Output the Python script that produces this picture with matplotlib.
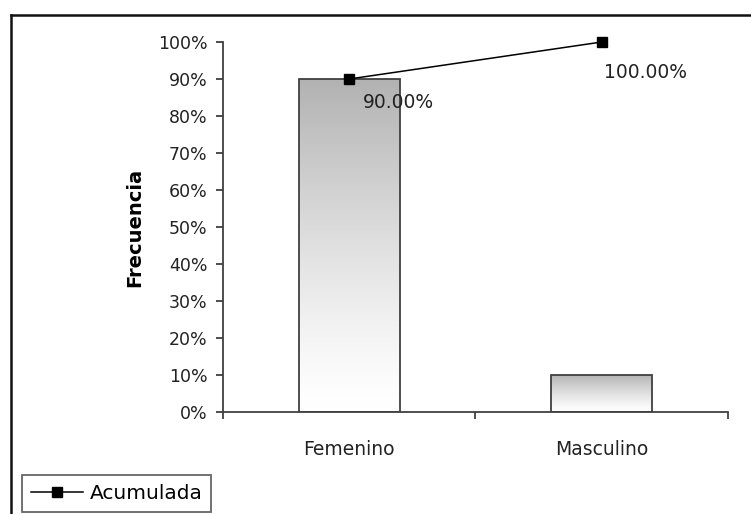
import numpy as np
import matplotlib
matplotlib.use("Agg")
import matplotlib.pyplot as plt
from matplotlib.lines import Line2D
from matplotlib.ticker import PercentFormatter

# Data
categories = ["Femenino", "Masculino"]
frecuencia = [0.90, 0.10]
acumulada = [0.90, 1.00]
value_labels = ["90.00%", "100.00%"]
label_offsets = [(14, -24), (2, -30)]  # pixels from each marker

plt.rcParams["font.family"] = "DejaVu Sans"

fig = plt.figure(figsize=(7.51, 5.14), dpi=100)
ax = fig.add_axes([223 / 751, 1 - 412 / 514, (728 - 223) / 751, (412 - 42) / 514])

x = np.arange(len(categories))
bar_w = 0.4
bars = ax.bar(x, frecuencia, width=bar_w, color="none", edgecolor="#404040",
              linewidth=1.3, zorder=3)

# gray-to-white gradient in each bar
grad = np.linspace(0, 1, 256).reshape(-1, 1) ** 1.3
cmap = matplotlib.colors.LinearSegmentedColormap.from_list("g", ["#ffffff", "#b2b2b2"])
for b in bars:
    x0, y0, w, h = b.get_x(), b.get_y(), b.get_width(), b.get_height()
    im = ax.imshow(grad, cmap=cmap, aspect="auto", origin="lower",
                   extent=(x0, x0 + w, y0, y0 + h), zorder=2)
    im.set_clip_path(b)

ax.plot(x, acumulada, color="black", lw=1.1, marker="s", ms=6.5,
        label="Acumulada", zorder=4, clip_on=False)
for xi, yi, txt, off in zip(x, acumulada, value_labels, label_offsets):
    ax.annotate(txt, (xi, yi), xytext=(off[0] * 0.72, off[1] * 0.72),
                textcoords="offset points", ha="left", va="center",
                fontsize=13.5, color="#222222", zorder=5)

ax.set_xlim(-0.5, 1.5)
ax.set_ylim(0, 1)
ax.set_yticks(np.arange(0, 1.01, 0.1))
ax.yaxis.set_major_formatter(PercentFormatter(1.0, decimals=0))
ax.set_xticks(x)
ax.set_xticklabels(categories)
ax.set_xticks([-0.5, 0.5, 1.5], minor=True)
ax.tick_params(axis="x", which="major", length=0, pad=20, labelsize=13.5, colors="#222222")
ax.tick_params(axis="x", which="minor", length=5, width=1.3, direction="out", color="#404040")
ax.tick_params(axis="y", length=5, width=1.3, direction="out", pad=6,
               labelsize=12.5, colors="#222222", color="#404040")
ax.set_ylabel("Frecuencia", fontsize=14, fontweight="bold", labelpad=10)
for s in ["top", "right"]:
    ax.spines[s].set_visible(False)
for s in ["left", "bottom"]:
    ax.spines[s].set_color("#404040")
    ax.spines[s].set_linewidth(1.3)

# outer chart frame (top and left edges visible)
fig.add_artist(Line2D([11 / 751, 1], [1 - 15 / 514, 1 - 15 / 514], color="#111111", lw=1.8))
fig.add_artist(Line2D([11 / 751, 11 / 751], [0, 1 - 15 / 514], color="#111111", lw=1.8))

leg = fig.legend(loc="lower left", bbox_to_anchor=(22 / 751, 2 / 514), fontsize=14.5,
                 frameon=True, fancybox=False, edgecolor="#404040",
                 handlelength=2.6, borderpad=0.45, handletextpad=0.3, borderaxespad=0)
leg.get_frame().set_linewidth(1.3)

fig.savefig("out.png", dpi=100)
